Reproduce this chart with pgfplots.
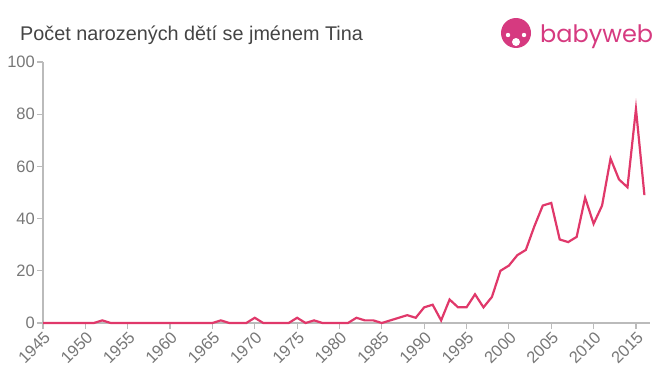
\documentclass[border=0pt]{standalone}
\usepackage{pgfplots}
\pgfplotsset{compat=1.18}
\usepackage{fontspec}
\setmainfont{Liberation Sans}
\newfontfamily\logofont{Poppins}
\definecolor{linec}{HTML}{E0386A}
\definecolor{logoc}{HTML}{D63A80}
\definecolor{axisc}{HTML}{BBBBBB}
\definecolor{tickc}{HTML}{777777}
\definecolor{titlec}{HTML}{444444}
\begin{document}
\begin{tikzpicture}[x=1bp,y=1bp]
\path[use as bounding box] (0,0) rectangle (660,375);
\node[anchor=base west, inner sep=0pt, text=titlec, font=\fontsize{19.8bp}{22bp}\selectfont] at (20,335) {Počet narozených dětí se jménem Tina};
% logo
\fill[logoc] (516,342) circle (15);
\fill[white] (516,333) circle (4);
\fill[white] (508,340) circle (2.2);
\fill[white] (524,340) circle (2.2);
\node[anchor=base west, inner sep=0pt, text=logoc, font=\logofont\fontsize{24bp}{28bp}\selectfont] at (540,333) {babyweb};
\begin{axis}[
  at={(43bp,52bp)}, anchor=origin,
  scale only axis, width=607bp, height=261bp,
  xmin=1945, xmax=2016.66, ymin=0, ymax=100,
  axis x line*=bottom, axis y line*=left,
  axis line style={axisc, line width=1.5pt, -},
  xtick={1945,1950,...,2015}, ytick={0,20,...,100},
  tick style={axisc, line width=1.2pt},
  tick align=outside, major tick length=6bp,
  xticklabel style={rotate=45, anchor=north east, inner sep=1pt, text=tickc, font=\fontsize{16.5bp}{18bp}\selectfont},
  yticklabel style={text=tickc, inner sep=2pt, font=\fontsize{16.5bp}{18bp}\selectfont},
  /pgf/number format/1000 sep={},
  /pgf/number format/assume math mode=true,
  clip=false,
]
\addplot[linec, line width=2.2bp, line join=miter] coordinates {
(1945,0)(1946,0)(1947,0)(1948,0)(1949,0)(1950,0)(1951,0)(1952,1)(1953,0)(1954,0)
(1955,0)(1956,0)(1957,0)(1958,0)(1959,0)(1960,0)(1961,0)(1962,0)(1963,0)(1964,0)
(1965,0)(1966,1)(1967,0)(1968,0)(1969,0)(1970,2)(1971,0)(1972,0)(1973,0)(1974,0)
(1975,2)(1976,0)(1977,1)(1978,0)(1979,0)(1980,0)(1981,0)(1982,2)(1983,1)(1984,1)
(1985,0)(1986,1)(1987,2)(1988,3)(1989,2)(1990,6)(1991,7)(1992,1)(1993,9)(1994,6)
(1995,6)(1996,11)(1997,6)(1998,10)(1999,20)(2000,22)(2001,26)(2002,28)(2003,37)(2004,45)
(2005,46)(2006,32)(2007,31)(2008,33)(2009,48)(2010,38)(2011,45)(2012,63)(2013,55)(2014,52)
(2015,82)(2016,49)
};
\end{axis}
\end{tikzpicture}
\end{document}
